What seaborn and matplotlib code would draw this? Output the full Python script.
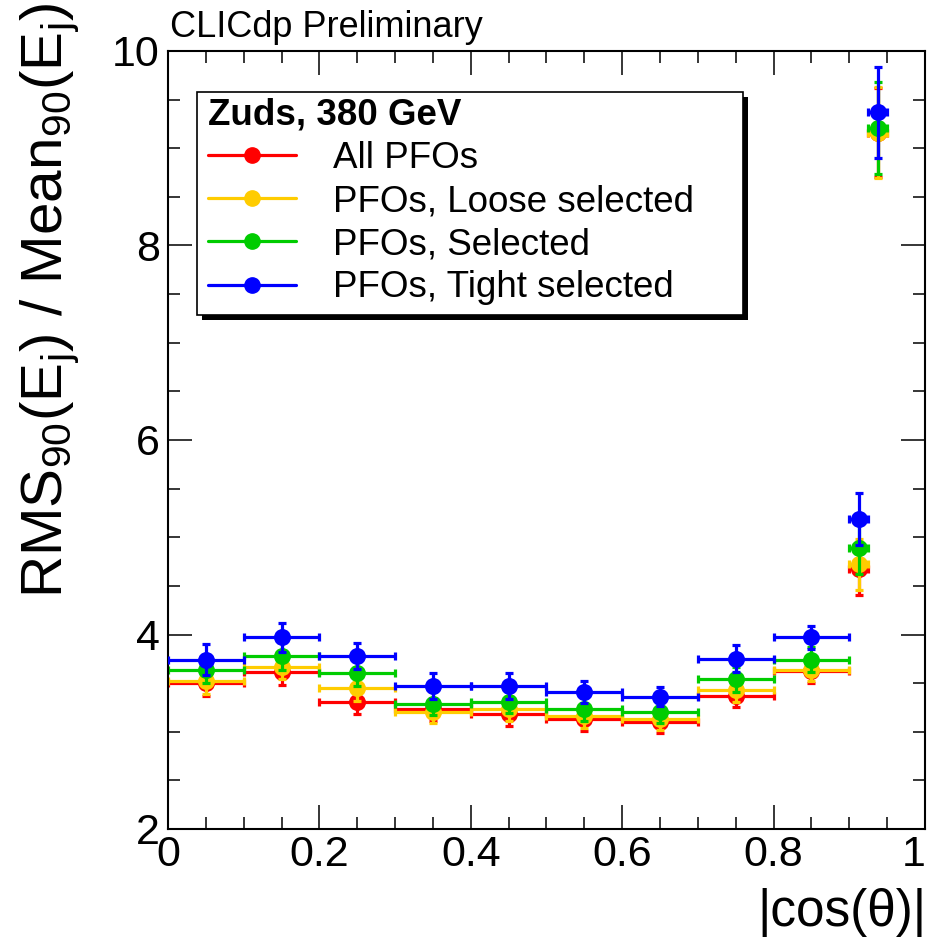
import matplotlib
matplotlib.use("Agg")
import matplotlib.pyplot as plt
import numpy as np
import pandas as pd
import seaborn as sns
from matplotlib.ticker import MultipleLocator, FixedLocator
from matplotlib.lines import Line2D
from matplotlib.patches import Rectangle
import matplotlib.transforms as mtransforms

# ---------------- data ----------------
bin_centers = [0.05, 0.15, 0.25, 0.35, 0.45, 0.55, 0.65, 0.75, 0.85, 0.9125, 0.9375]
bin_half_widths = [0.05, 0.05, 0.05, 0.05, 0.05, 0.05, 0.05, 0.05, 0.05, 0.0125, 0.0125]

series_names = ["All PFOs", "PFOs, Loose selected", "PFOs, Selected", "PFOs, Tight selected"]
series_colors = ["#FF0000", "#FFCC00", "#00CC00", "#0000FF"]

all_pfos = [3.50, 3.61, 3.31, 3.23, 3.18, 3.13, 3.10, 3.37, 3.62, 4.67, 9.16]
all_pfos_err = [0.13, 0.13, 0.13, 0.12, 0.12, 0.12, 0.11, 0.12, 0.12, 0.26, 0.46]
loose = [3.52, 3.67, 3.45, 3.20, 3.23, 3.16, 3.13, 3.43, 3.64, 4.72, 9.16]
loose_err = [0.13, 0.13, 0.13, 0.11, 0.12, 0.12, 0.11, 0.12, 0.12, 0.26, 0.47]
selected = [3.63, 3.78, 3.60, 3.29, 3.31, 3.23, 3.20, 3.54, 3.74, 4.89, 9.21]
selected_err = [0.13, 0.14, 0.13, 0.12, 0.12, 0.12, 0.11, 0.13, 0.13, 0.27, 0.47]
tight = [3.74, 3.97, 3.78, 3.47, 3.47, 3.41, 3.36, 3.75, 3.97, 5.19, 9.37]
tight_err = [0.16, 0.15, 0.13, 0.13, 0.13, 0.11, 0.10, 0.14, 0.12, 0.27, 0.47]

x_ticks = [0, 0.2, 0.4, 0.6, 0.8, 1]
x_tick_labels = ["0", "0.2", "0.4", "0.6", "0.8", "1"]
y_ticks = [2, 4, 6, 8, 10]
y_tick_labels = ["2", "4", "6", "8", "10"]

legend_title = "Zuds, 380 GeV"
header_text = "CLICdp Preliminary"
x_title = "|cos(θ)|"
y_title = r"RMS$_{90}$(E$_{\mathrm{j}}$) / Mean$_{90}$(E$_{\mathrm{j}}$)"

values = [all_pfos, loose, selected, tight]
errors = [all_pfos_err, loose_err, selected_err, tight_err]

rows = []
for name, vals, errs in zip(series_names, values, errors):
    for xc, hw, v, e in zip(bin_centers, bin_half_widths, vals, errs):
        rows.append({"series": name, "x": xc, "xerr": hw, "y": v, "yerr": e})
df = pd.DataFrame(rows)

# ---------------- style ----------------
sns.set_theme(style="ticks")
base_font = "Liberation Sans"
plt.rcParams["font.family"] = [base_font, "DejaVu Sans"]
plt.rcParams["mathtext.fontset"] = "custom"
plt.rcParams["mathtext.rm"] = base_font
plt.rcParams["mathtext.it"] = base_font + ":italic"
plt.rcParams["mathtext.bf"] = base_font + ":bold"
for k in ["text.color", "axes.labelcolor", "xtick.color", "ytick.color", "axes.edgecolor"]:
    plt.rcParams[k] = "black"

W, H = 929, 939
fig = plt.figure(figsize=(W / 100, H / 100), dpi=100)
ax_l, ax_r, ax_t, ax_b = 168, 925, 51, 829
ax = fig.add_axes([ax_l / W, 1 - ax_b / H, (ax_r - ax_l) / W, (ax_b - ax_t) / H])
ax.set_facecolor("white")

for i, (name, color) in enumerate(zip(series_names, series_colors)):
    sub = df[df["series"] == name]
    ax.errorbar(sub["x"], sub["y"], xerr=sub["xerr"], yerr=sub["yerr"], fmt="none",
                ecolor=color, elinewidth=2.3, capsize=3.2, capthick=2.3, zorder=2 + i * 0.2)
    sns.scatterplot(data=sub, x="x", y="y", ax=ax, color=color, s=150, marker="o",
                    edgecolor=color, linewidth=0, zorder=2.1 + i * 0.2, legend=False)

ax.set_xlim(0, 1)
ax.set_ylim(2, 10)
ax.xaxis.set_major_locator(FixedLocator(x_ticks))
ax.set_xticklabels(x_tick_labels)
ax.yaxis.set_major_locator(FixedLocator(y_ticks))
ax.set_yticklabels(y_tick_labels)
ax.xaxis.set_minor_locator(MultipleLocator(0.05))
ax.yaxis.set_minor_locator(MultipleLocator(0.5))
ax.tick_params(which="both", direction="in", top=True, right=True, width=1.1, color="black")
ax.tick_params(which="major", length=17)
ax.tick_params(which="minor", length=8.6)
ax.tick_params(axis="x", which="major", pad=4)
ax.tick_params(axis="y", which="major", pad=6)
for lab in ax.get_xticklabels() + ax.get_yticklabels():
    lab.set_fontsize(31)
    lab.set_color("black")
# last x tick label sits at the right edge; nudge it inward so it stays on the canvas
last = ax.get_xticklabels()[-1]
last.set_transform(last.get_transform() + mtransforms.ScaledTranslation(-11 / 100, 0, fig.dpi_scale_trans))
for sp in ax.spines.values():
    sp.set_linewidth(1.5)
    sp.set_color("black")
    sp.set_visible(True)
ax.set_xlabel("")
ax.set_ylabel("")
ax.grid(False)

# titles
fig.text(927 / W, 1 - 937 / H, x_title, ha="right", va="bottom", fontsize=37, color="black")
fig.text(50 / W, 1 - 3 / H, y_title, ha="center", va="top", rotation=90, fontsize=42, color="black")
fig.text(170 / W, 1 - 37 / H, header_text, ha="left", va="baseline", fontsize=26, color="black")

# legend frame with ROOT-like drop shadow
fx0, fy0, fx1, fy1 = 197, 92, 743, 315
sh = 5
shadow = Rectangle(((fx0 + sh) / W, 1 - (fy1 + sh) / H), (fx1 - fx0) / W, (fy1 - fy0) / H,
                   transform=fig.transFigure, facecolor="black", edgecolor="none",
                   zorder=8, clip_on=False)
frame = Rectangle((fx0 / W, 1 - fy1 / H), (fx1 - fx0) / W, (fy1 - fy0) / H,
                  transform=fig.transFigure, facecolor="white", edgecolor="black",
                  linewidth=1.2, zorder=9, clip_on=False)
ax.add_patch(shadow)
ax.add_patch(frame)

handles = [Line2D([0], [0], color=c, lw=2.3, marker="o", markersize=11) for c in series_colors]
leg = ax.legend(handles, series_names, title=legend_title,
                title_fontproperties={"weight": "bold", "size": 26.5}, alignment="left",
                loc="upper left", bbox_to_anchor=(208 / W, 1 - 98 / H),
                bbox_transform=fig.transFigure,
                borderaxespad=0, fontsize=26.5, handlelength=2.4, handletextpad=1.0,
                labelspacing=0.22, borderpad=0.0, frameon=False)
for t in leg.get_texts():
    t.set_color("black")
leg.get_title().set_color("black")
leg.set_zorder(10)

fig.savefig("out.png", dpi=100, facecolor="white")
